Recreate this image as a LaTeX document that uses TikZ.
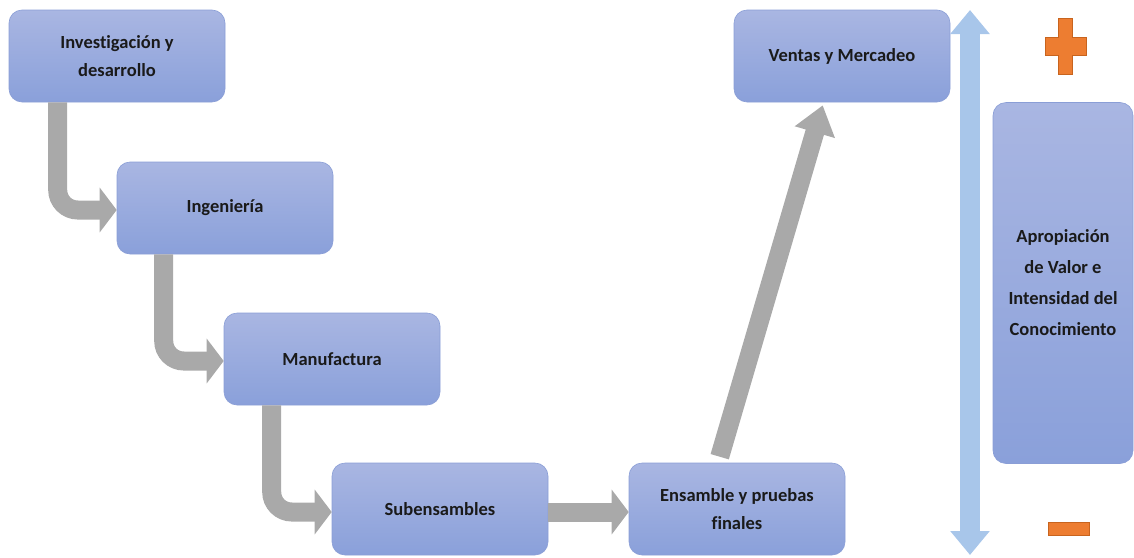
\documentclass[tikz,border=0pt]{standalone}
\usepackage{fontspec}
\setmainfont{Carlito}[Ligatures=NoCommon]
\usetikzlibrary{arrows.meta,calc}
\definecolor{boxtop}{HTML}{A9B6E2}
\definecolor{boxbot}{HTML}{8AA0DA}
\definecolor{boxline}{HTML}{8A9ED6}
\definecolor{arrgray}{HTML}{A9A9A9}
\definecolor{arrblue}{HTML}{A8C6EA}
\definecolor{signor}{HTML}{ED7D31}
\definecolor{signline}{HTML}{C8641E}
\definecolor{txt}{HTML}{1A1A1A}
\tikzset{
  stage/.style={draw=boxline, line width=0.6pt, rounded corners=13pt, top color=boxtop, bottom color=boxbot,
    minimum width=216pt, minimum height=92pt, align=center, text=txt,
    font=\fontsize{18.5}{27.5}\selectfont\bfseries},
  flow/.style={draw=arrgray, line width=19pt, -{Triangle[length=17pt,width=44pt]}},
  elbow/.style={flow, rounded corners=20pt},
  valuescale/.style={draw=arrblue, line width=20pt, {Triangle[length=24pt,width=38pt]}-{Triangle[length=24pt,width=38pt]}},
  sign/.style={fill=signor, draw=signline, line width=0.5pt}
}
\begin{document}
\begin{tikzpicture}[x=1pt,y=-1pt]
\useasboundingbox (0,0) rectangle (1134,557);
\node[stage] (inv) at (117,56) {Investigación y\\desarrollo};
\node[stage] (ing) at (225,208) {Ingeniería};
\node[stage] (man) at (332,359) {Manufactura};
\node[stage] (sub) at (440,509) {Subensambles};
\node[stage] (ens) at (737,509) {Ensamble y pruebas\\finales};
\node[stage] (ven) at (842,56) {Ventas y Mercadeo};
\node[stage, minimum width=140pt, minimum height=361pt, font=\fontsize{18.5}{31}\selectfont\bfseries] (apr) at (1063,283) {Apropiación\\de Valor e\\Intensidad del\\Conocimiento};
% flow arrows
\draw[elbow] ($(inv.south west)+(49,0)$) |- ($(ing.west)+(0,2)$);
\draw[elbow] ($(ing.south west)+(47,0)$) |- ($(man.west)+(0,2)$);
\draw[elbow] ($(man.south west)+(48,0)$) |- ($(sub.west)+(0,3)$);
\draw[flow] ($(sub.east)+(0,3)$) -- ($(ens.west)+(0,3)$);
\coordinate (dstart) at ($(ens.north west)+(91,-6)$);
\coordinate (dend) at ($(ven.south west)+(89,3)$);
\draw[flow, -{Triangle[length=28pt,width=40pt]}] (dstart) -- (dend);
% value scale
\coordinate (stop) at (970,10);
\coordinate (sbot) at (970,555);
\draw[valuescale] (sbot) -- (stop);
% signs
\path[sign] (1058,18) -- (1072,18) -- (1072,37) -- (1086,37) -- (1086,55) -- (1072,55) -- (1072,74) -- (1058,74) -- (1058,55) -- (1045,55) -- (1045,37) -- (1058,37) -- cycle;
\path[sign] (1048,522) rectangle (1089,535);
\end{tikzpicture}
\end{document}
